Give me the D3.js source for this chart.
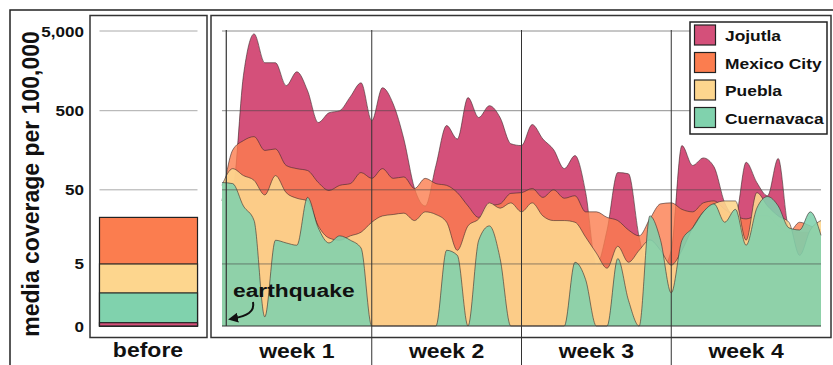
<!DOCTYPE html>
<html>
<head>
<meta charset="utf-8">
<script src="https://cdn.jsdelivr.net/npm/d3@7"></script>
<style>
  body { margin: 0; background: #fff; }
  text { font-family: "Liberation Sans", Arial, sans-serif; font-weight: bold; fill: #111; }
</style>
</head>
<body>
<div id="chart"></div>
<script>
// days after the earthquake (half-day steps)
const days = [0, 0.5, 1, 1.5, 2, 2.5, 3, 3.5, 4, 4.5, 5, 5.5, 6, 6.5, 7, 7.5, 8, 8.5, 9, 9.5,
  10, 10.5, 11, 11.5, 12, 12.5, 13, 13.5, 14, 14.5, 15, 15.5, 16, 16.5, 17, 17.5, 18, 18.5, 19, 19.5,
  20, 20.5, 21, 21.5, 22, 22.5, 23, 23.5, 24, 24.5, 25, 25.5, 26, 26.5, 27, 27.5, 28];

// media coverage per 100,000
const jojutla = [36, 49, 1370, 4600, 2000, 2000, 1030, 1540, 890, 355, 470, 500, 750, 1120, 375, 970, 610, 220, 52, 31,
  102, 325, 220, 730, 410, 578, 410, 192, 182, 335, 220, 162, 93, 136, 46, 4.8, 15, 83, 80, 12,
  4, 4, 7.9, 182, 102, 127, 98, 34, 23, 112, 62, 42, 125, 16, 14, 14, 12.7];
const mexicoCity = [36, 160, 210, 236, 158, 165, 102, 93, 88, 62, 49, 57, 60, 83, 70, 93, 70, 73, 52, 70,
  60, 57, 46, 31, 22, 31, 33, 45, 46, 52, 40, 50, 39, 42, 26, 26, 22, 20, 15, 12.5,
  21, 33, 34, 28, 26, 34, 36, 28, 23, 21, 23, 23, 17, 14, 19, 17, 15];
const puebla = [57, 93, 76, 66, 43, 76, 46, 39, 36, 17, 11.7, 10.9, 12.5, 14, 19, 23, 24, 25, 20, 26,
  24, 19, 7.9, 17, 21, 34, 29, 34, 26, 34, 23, 20, 20, 19, 12, 7.2, 4.3, 9, 5.3, 7.9,
  11, 7.9, 4.8, 7.9, 16, 26, 33, 36, 36, 10.9, 46, 31, 23, 19, 6.7, 15, 20];
const cuernavaca = [62, 60, 31, 20, 0.3, 10.9, 10, 9.3, 40, 16, 10, 12.5, 10.9, 8.5, 0, 0, 0, 0, 0, 0,
  0, 7.9, 6.7, 0, 10.9, 17, 6, 0, 0, 0, 0, 0, 0, 5.3, 2.8, 0, 0, 6, 1.1, 0,
  23, 10.9, 1.6, 10.9, 16, 26, 33, 19, 28, 9.3, 29, 41, 31, 16, 15, 26, 12.7];

const cities = ["Jojutla", "Mexico City", "Puebla", "Cuernavaca"];
const colors = ["#d4507a", "#fb7d4f", "#fdd68e", "#80d2ad"];
const beforeValues = [0.1, 22, 5, 1.6];
const yTicks = [0, 5, 50, 500, 5000];
const weekLabels = ["week 1", "week 2", "week 3", "week 4"];
const weekStarts = [0, 7, 14, 21, 28];
const earthquakeDay = 0.2;

const series = [jojutla, mexicoCity, puebla, cuernavaca];
const areaOpacity = [1, 0.8, 0.9, 0.88];

const width = 833, height = 365;
const svg = d3.select("#chart").append("svg")
  .attr("width", width)
  .attr("height", height);

const x = d3.scaleLinear().domain([0, 28]).range([222, 821]);
const y = d3.scaleSymlog().constant(1).domain([0, 5000]).range([326, 31]);

// stretched text (the original labels are a bit wide)
function label(g, tx, ty, txt, size, sx, anchor) {
  return g.append("text")
    .attr("transform", `translate(${tx},${ty}) scale(${sx},1)`)
    .attr("text-anchor", anchor)
    .style("font-size", size + "px")
    .text(txt);
}

/* frames */
svg.append("rect")
  .attr("x", 10).attr("y", 10).attr("width", 900).attr("height", 500)
  .attr("fill", "none").attr("stroke", "#222").attr("stroke-width", 1.5);
svg.append("rect")
  .attr("x", 90).attr("y", 15.5).attr("width", 117).attr("height", 322)
  .attr("fill", "none").attr("stroke", "#333").attr("stroke-width", 1.5);
svg.append("rect")
  .attr("x", 211).attr("y", 15.5).attr("width", 620).attr("height", 322)
  .attr("fill", "none").attr("stroke", "#333").attr("stroke-width", 1.5);

/* left panel: before */
const bx0 = 99.5, bx1 = 197.5;
svg.append("g").selectAll("line")
  .data(yTicks.filter(d => d > 0)).enter()
  .append("line")
  .attr("x1", bx0).attr("x2", bx1)
  .attr("y1", d => y(d)).attr("y2", d => y(d))
  .attr("stroke", "#aaa").attr("stroke-width", 1);

const beforeData = cities.map((c, i) => ({ city: c, value: beforeValues[i], color: colors[i] }))
  .sort((a, b) => b.value - a.value);
svg.append("g").selectAll("rect")
  .data(beforeData).enter()
  .append("rect")
  .attr("x", bx0).attr("width", bx1 - bx0)
  .attr("y", d => y(d.value))
  .attr("height", d => y(0) - y(d.value))
  .attr("fill", d => d.color)
  .attr("stroke", "#222").attr("stroke-width", 1.2);

/* y axis labels */
const yl = svg.append("g");
yTicks.forEach(t => {
  label(yl, 84, y(t) + 5.5, d3.format(",")(t), 15.5, 1.1, "end");
});
yl.append("text")
  .attr("transform", "translate(39,184) rotate(-90)")
  .attr("text-anchor", "middle")
  .style("font-size", "23px")
  .text("media coverage per 100,000");

/* main panel areas */
const area = d3.area()
  .x((d, i) => x(days[i]))
  .y0(y(0))
  .y1(d => y(d))
  .curve(d3.curveMonotoneX);
const topLine = d3.line()
  .x((d, i) => x(days[i]))
  .y(d => y(d))
  .curve(d3.curveMonotoneX);

const areas = svg.append("g").attr("class", "areas");
series.forEach((s, k) => {
  areas.append("path")
    .attr("d", area(s))
    .attr("fill", colors[k])
    .attr("fill-opacity", areaOpacity[k]);
  areas.append("path")
    .attr("d", topLine(s))
    .attr("fill", "none")
    .attr("stroke", "#3a2a2a")
    .attr("stroke-opacity", 0.75)
    .attr("stroke-width", 0.8);
});

/* grid on top of the areas */
svg.append("g").selectAll("line")
  .data(yTicks.filter(d => d > 0)).enter()
  .append("line")
  .attr("x1", x(0)).attr("x2", x(28))
  .attr("y1", d => y(d)).attr("y2", d => y(d))
  .attr("stroke", "#444").attr("stroke-opacity", 0.6).attr("stroke-width", 1);

svg.append("line")
  .attr("x1", x(0)).attr("x2", x(28))
  .attr("y1", y(0)).attr("y2", y(0))
  .attr("stroke", "#333").attr("stroke-width", 1.2);

// earthquake marker
svg.append("line")
  .attr("x1", x(earthquakeDay)).attr("x2", x(earthquakeDay))
  .attr("y1", y(5000) - 1).attr("y2", y(0))
  .attr("stroke", "#333").attr("stroke-width", 1.2);

// week dividers
svg.append("g").selectAll("line")
  .data(weekStarts.slice(1, 4)).enter()
  .append("line")
  .attr("x1", d => x(d)).attr("x2", d => x(d))
  .attr("y1", y(5000) - 1).attr("y2", height)
  .attr("stroke", "#333").attr("stroke-width", 1);

/* bottom labels */
const bl = svg.append("g");
label(bl, 148, 357, "before", 20, 1.15, "middle");
weekLabels.forEach((w, i) => {
  label(bl, x((weekStarts[i] + weekStarts[i + 1]) / 2), 358, w, 20, 1.15, "middle");
});

/* earthquake annotation */
const defs = svg.append("defs");
defs.append("marker")
  .attr("id", "arrow")
  .attr("viewBox", "0 0 10 10")
  .attr("refX", 5).attr("refY", 5)
  .attr("markerWidth", 5).attr("markerHeight", 5)
  .attr("orient", "auto")
  .append("path")
  .attr("d", "M0,0 L10,5 L0,10 z")
  .attr("fill", "#111");
label(svg, 233, 297, "earthquake", 19, 1.2, "start");
svg.append("path")
  .attr("d", "M253,302 C255,312 247,316 233,318.5")
  .attr("fill", "none")
  .attr("stroke", "#111")
  .attr("stroke-width", 2)
  .attr("marker-end", "url(#arrow)");

/* legend */
const legend = svg.append("g");
legend.append("rect")
  .attr("x", 690).attr("y", 22).attr("width", 137).attr("height", 112)
  .attr("fill", "#fff").attr("stroke", "#222").attr("stroke-width", 1.5);
cities.forEach((c, i) => {
  legend.append("rect")
    .attr("x", 694.5).attr("y", 25 + i * 27.5)
    .attr("width", 21).attr("height", 20)
    .attr("fill", colors[i])
    .attr("stroke", "#222").attr("stroke-width", 1.2);
  label(legend, 725, 41 + i * 27.5, c, 15, 1.16, "start");
});
</script>
</body>
</html>
